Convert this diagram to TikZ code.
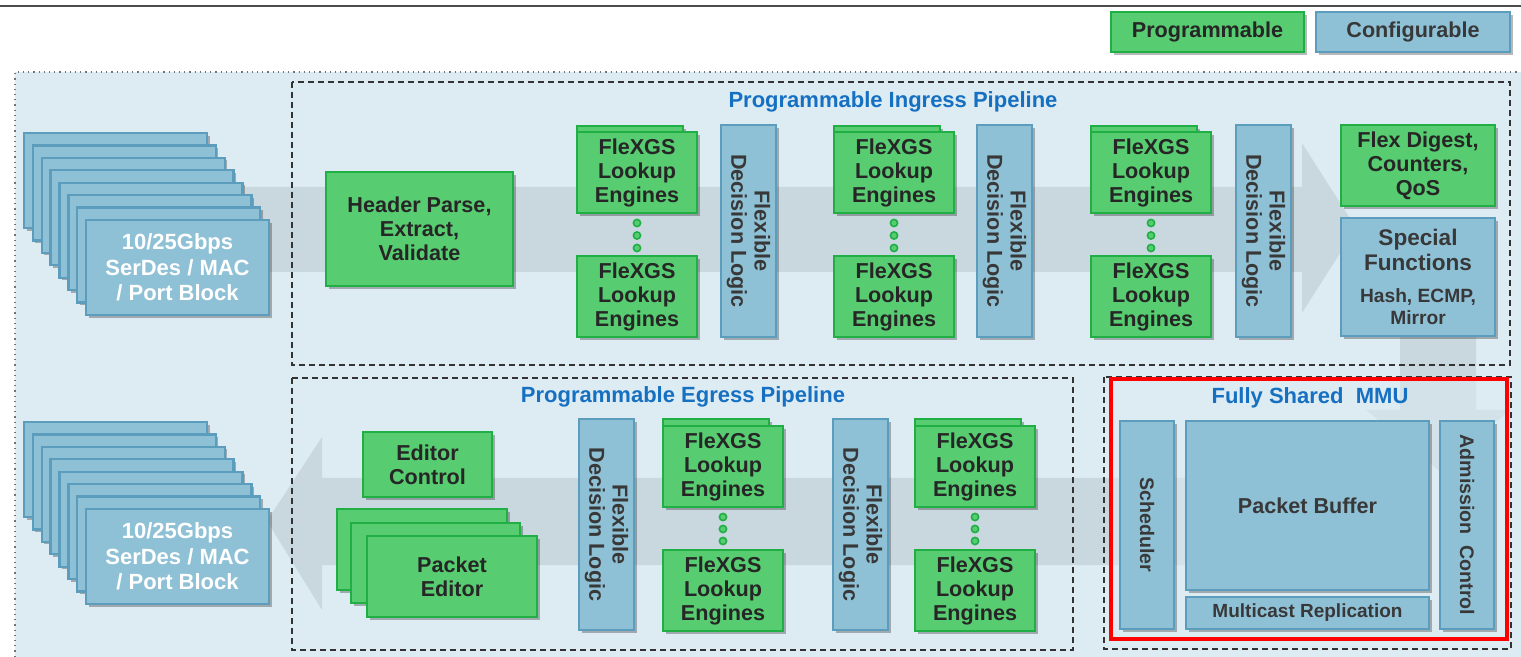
\documentclass[tikz,border=0pt]{standalone}
\usepackage{fontspec}
\setmainfont{Liberation Sans}
\usetikzlibrary{shadows}
\definecolor{gfill}{HTML}{57CC70}
\definecolor{gdraw}{HTML}{1FAF45}
\definecolor{bfill}{HTML}{8FC1D6}
\definecolor{bdraw}{HTML}{5C9DBD}
\definecolor{bgc}{HTML}{DDEBF2}
\definecolor{bandc}{HTML}{C9D8DF}
\definecolor{ttl}{HTML}{1670C2}
\definecolor{txt}{HTML}{262626}
\definecolor{btxt}{HTML}{383838}
\newcommand\mkbox[7]{\node[#2, minimum width={(#5-#3)*0.5pt}, minimum height={(#6-#4)*0.5pt}] (#1) at ({(#3+#5)/2},{(#4+#6)/2}) {#7};}
\tikzset{
  shad/.style={drop shadow={shadow xshift=1.3pt,shadow yshift=-1.3pt,opacity=0.28,fill=black}},
  gbox/.style={rectangle, fill=gfill, draw=gdraw, line width=1.4pt, inner sep=0pt, align=center, text=txt, font=\bfseries\fontsize{10.8}{12}\selectfont, shad},
  bbox/.style={rectangle, fill=bfill, draw=bdraw, line width=1.2pt, inner sep=0pt, align=center, text=btxt, font=\bfseries\fontsize{10.8}{12}\selectfont, shad},
  vtxt/.style={align=center, inner sep=0pt, text=btxt, font=\bfseries\fontsize{10.8}{11.6}\selectfont},
  wtxt/.style={align=center, inner sep=0pt, text=white, font=\bfseries\fontsize{11}{12.7}\selectfont},
  ttltxt/.style={inner sep=0pt, text=ttl, font=\bfseries\fontsize{11}{12}\selectfont},
  dashbox/.style={draw=black!80, line width=0.7pt, dash pattern=on 3pt off 2pt},
  dotbullet/.style={circle, fill=gfill, draw=gdraw, line width=0.8pt, minimum size=3.6pt, inner sep=0pt},
}
\begin{document}
\begin{tikzpicture}[x=0.5pt,y=-0.5pt]
\useasboundingbox (0,0) rectangle (1521,657);
\fill[white] (0,0) rectangle (1521,657);
% top rule
\draw[black!70, line width=0.8pt] (0,6) -- (1521,6);
% outer region
\fill[bgc] (15,72) rectangle (1525,662);
\draw[black!55, line width=0.6pt, dotted] (15,662) -- (15,72) -- (1525,72);
% flow arrows
\fill[bandc] (200,187) -- (1302,187) -- (1302,143) -- (1356,228) -- (1302,313) -- (1302,272) -- (200,272) -- cycle;
\fill[bandc] (1400,330) -- (1476,330) -- (1476,410) -- (1510,410) -- (1438,470) -- (1366,410) -- (1400,410) -- cycle;
\fill[bandc] (1250,478) -- (322,478) -- (322,437) -- (267,521) -- (322,610) -- (322,565) -- (1250,565) -- cycle;
% dashed regions
\draw[dashbox] (292,82) rectangle (1510,365);
\draw[dashbox] (292,378) rectangle (1073,650);
\draw[dashbox] (1104,377) rectangle (1511,649);
\fill[bgc, opacity=0.55] (1111,379) rectangle (1507,639);
\draw[red, line width=2pt] (1111,379) rectangle (1507,639);
% titles
\node[ttltxt] (tin) at (893,102) {Programmable Ingress Pipeline};
\node[ttltxt] (teg) at (683,397) {Programmable Egress Pipeline};
\node[ttltxt] (tmmu) at (1310,398) {Fully Shared~ MMU};
% legend
\mkbox{lgp}{gbox}{1111}{12}{1304}{52}{Programmable}
\mkbox{lgc}{bbox}{1316}{12}{1510}{52}{Configurable}
% SerDes stacks
\foreach \i in {0,...,7} {
  \pgfmathsetmacro\xa{24+\i*8.86}
  \pgfmathsetmacro\ya{133+\i*12.43}
  \pgfmathsetmacro\yb{422+\i*12.43}
  \mkbox{sa\i}{bbox}{\xa}{\ya}{\xa+183}{\ya+95}{}
  \mkbox{sb\i}{bbox}{\xa}{\yb}{\xa+183}{\yb+95}{}
}
\node[wtxt] (sat) at (sa7) {10/25Gbps\\SerDes / MAC\\/ Port Block};
\node[wtxt] (sbt) at (sb7) {10/25Gbps\\SerDes / MAC\\/ Port Block};
% ingress
\mkbox{hp}{gbox}{326}{172}{513}{286}{Header Parse,\\Extract,\\Validate}
\foreach \k/\x in {1/577,2/834,3/1091} {
  \mkbox{ia\k b}{gbox}{\x-7}{126}{\x+113}{207}{}
  \mkbox{ia\k}{gbox}{\x}{132}{\x+120}{213}{FleXGS\\Lookup\\Engines}
  \mkbox{ib\k}{gbox}{\x}{256}{\x+120}{337}{FleXGS\\Lookup\\Engines}
  \node[dotbullet] (id\k a) at (\x+60,223) {};
  \node[dotbullet] (id\k b) at (\x+60,235.5) {};
  \node[dotbullet] (id\k c) at (\x+60,248) {};
}
\foreach \k/\x in {1/721,2/977,3/1236} {
  \mkbox{if\k}{bbox}{\x}{125}{\x+55}{337}{}
  \node[vtxt, rotate=-90] (if\k t) at (if\k) {Flexible\\Decision Logic};
}
\mkbox{fd}{gbox}{1341}{125}{1495}{206}{Flex Digest,\\Counters,\\QoS}
\mkbox{sf}{bbox}{1341}{218}{1495}{336}{}
\node[align=center, inner sep=0pt, text=btxt, font=\bfseries\fontsize{11.3}{12.2}\selectfont] (sft) at (1418,250) {Special\\Functions};
\node[align=center, inner sep=0pt, text=btxt, font=\bfseries\fontsize{9.6}{11}\selectfont] (sfs) at (1418,307) {Hash, ECMP,\\Mirror};
% egress
\mkbox{ec}{gbox}{363}{432}{492}{497}{Editor\\Control}
\mkbox{pe1}{gbox}{337}{509}{507}{590}{}
\mkbox{pe2}{gbox}{351}{523}{520}{603}{}
\mkbox{pe3}{gbox}{367}{536}{537}{617}{Packet\\Editor}
\foreach \k/\x in {1/579,2/833} {
  \mkbox{ef\k}{bbox}{\x}{419}{\x+55}{630}{}
  \node[vtxt, rotate=-90] (ef\k t) at (ef\k) {Flexible\\Decision Logic};
}
\foreach \k/\x in {1/663,2/915} {
  \mkbox{ea\k b}{gbox}{\x-7}{419}{\x+113}{500}{}
  \mkbox{ea\k}{gbox}{\x}{426}{\x+120}{507}{FleXGS\\Lookup\\Engines}
  \mkbox{eb\k}{gbox}{\x}{550}{\x+120}{631}{FleXGS\\Lookup\\Engines}
  \node[dotbullet] (ed\k a) at (\x+60,517) {};
  \node[dotbullet] (ed\k b) at (\x+60,529) {};
  \node[dotbullet] (ed\k c) at (\x+60,541) {};
}
% MMU
\mkbox{sch}{bbox}{1120}{421}{1174}{629}{}
\node[vtxt, rotate=-90, font=\bfseries\fontsize{9.8}{11}\selectfont] (scht) at (sch) {Scheduler};
\mkbox{pb}{bbox}{1186}{421}{1429}{590}{Packet Buffer}
\mkbox{mr}{bbox}{1186}{597}{1429}{629}{}
\node[inner sep=0pt, text=btxt, font=\bfseries\fontsize{9.5}{11}\selectfont] (mrt) at (mr) {Multicast Replication};
\mkbox{adm}{bbox}{1440}{421}{1494}{629}{}
\node[vtxt, rotate=-90, font=\bfseries\fontsize{9.8}{11}\selectfont] (admt) at (adm) {Admission~ Control};
\end{tikzpicture}
\end{document}
